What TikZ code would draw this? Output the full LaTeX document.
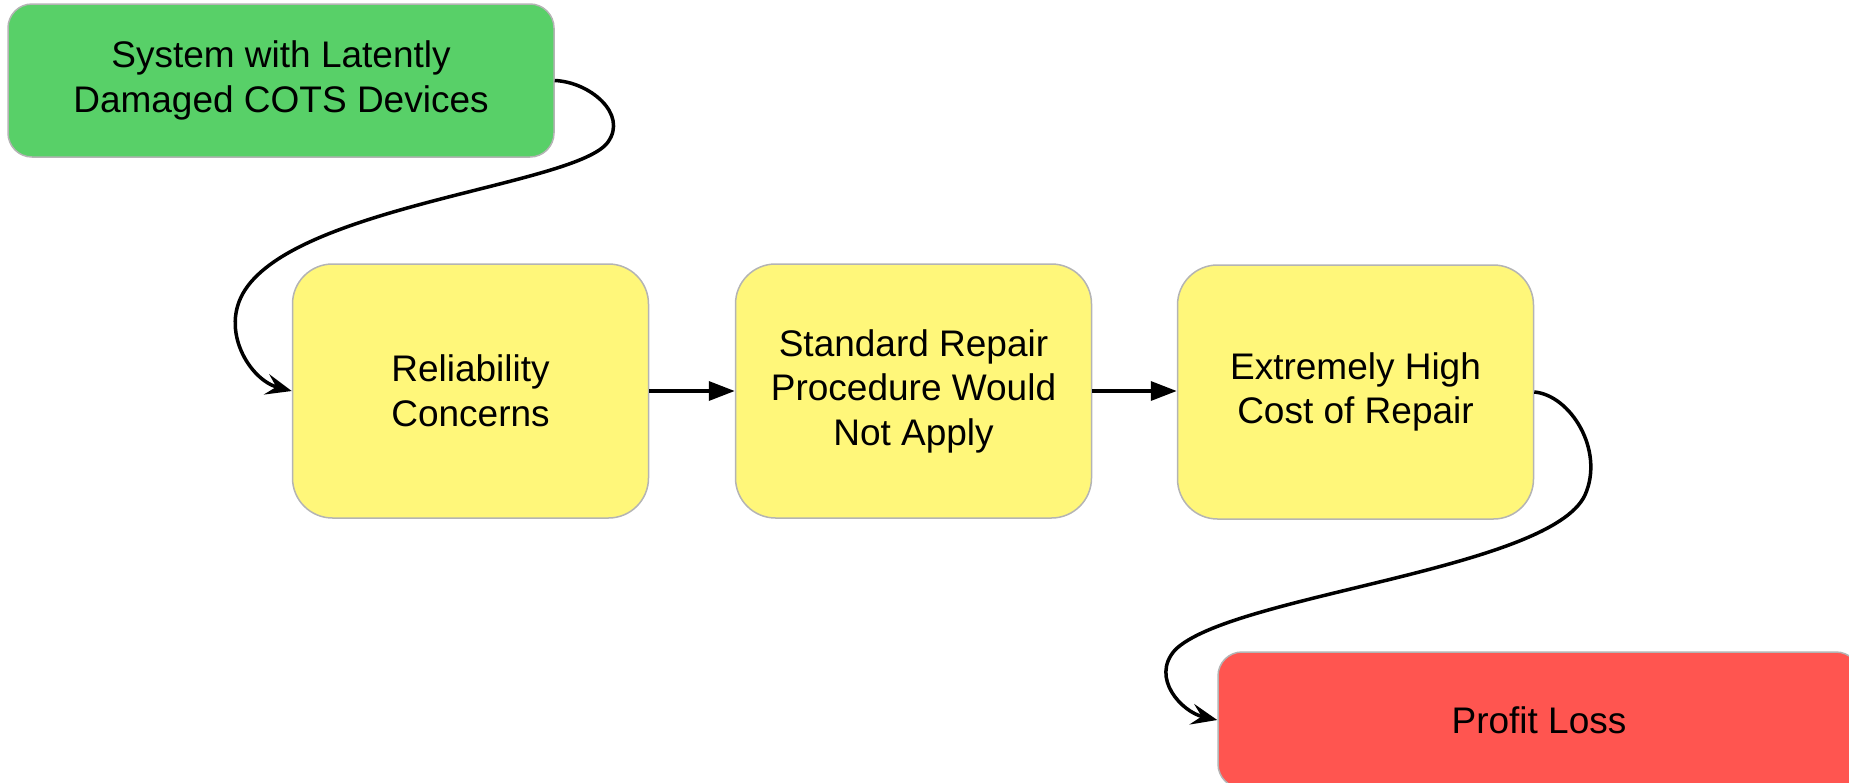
\documentclass[tikz,border=0pt]{standalone}
\usepackage{fontspec}
\setmainfont{Liberation Sans}
\usetikzlibrary{arrows.meta}
\definecolor{gfill}{RGB}{88,208,104}
\definecolor{yfill}{RGB}{255,247,122}
\definecolor{rfill}{RGB}{255,85,80}
\definecolor{bord}{RGB}{180,180,180}
\begin{document}
\begin{tikzpicture}[x=1pt,y=-1pt,
  box/.style={draw=bord, line width=1.5pt, rectangle, align=center,
    font=\fontsize{37}{44.5}\selectfont, inner sep=0pt},
  greenbox/.style={box, fill=gfill, rounded corners=24pt, minimum width=546pt, minimum height=153pt},
  yellowbox/.style={box, fill=yfill, rounded corners=40pt, minimum width=356pt, minimum height=254pt},
  redbox/.style={box, fill=rfill, rounded corners=24pt, minimum width=642pt, minimum height=136pt},
  straightarrow/.style={line width=3.5pt, -{Triangle[length=26pt,width=19pt]}},
  curvedarrow/.style={line width=3.5pt, -{Stealth[length=26pt,width=21pt,inset=10pt]}}]
\useasboundingbox (0,0) rectangle (1849,782);
\node[greenbox] (sys) at (281,80.5) {System with Latently\\Damaged COTS Devices};
\node[yellowbox] (rel) at (470.5,391) {Reliability\\Concerns};
\node[yellowbox] (std) at (913.5,391) {Standard Repair\\Procedure Would\\Not Apply};
\node[yellowbox] (cost) at (1355.5,392) {Extremely High\\Cost of Repair};
\node[redbox] (loss) at (1539,720) {Profit Loss};
\draw[straightarrow] (rel.east) -- (std.west);
\draw[straightarrow] (std.east |- rel.east) -- (cost.west |- rel.east);
\draw[curvedarrow] (sys.east) .. controls (590,82) and (628,114) .. (608,142)
  .. controls (578,185) and (300,205) .. (245,290)
  .. controls (219,330) and (250,380) .. (rel.west);
\draw[curvedarrow] (cost.east) .. controls (1570,395) and (1605,450) .. (1585,495)
  .. controls (1550,570) and (1230,595) .. (1175,650)
  .. controls (1150,678) and (1182,712) .. (loss.west);
\end{tikzpicture}
\end{document}
